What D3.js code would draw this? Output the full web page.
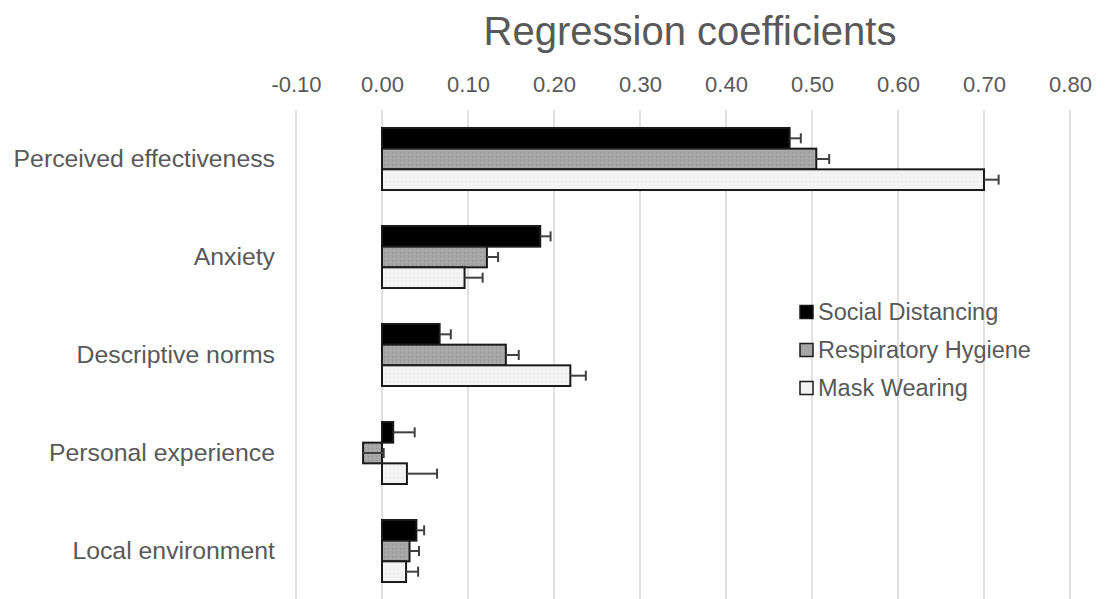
<!DOCTYPE html>
<html>
<head>
<meta charset="utf-8">
<script src="https://cdn.jsdelivr.net/npm/d3@7"></script>
<style>
  html, body { margin: 0; padding: 0; background: #fff; }
  svg { display: block; }
  text { font-family: "Liberation Sans", Arial, sans-serif; fill: #595959; }
</style>
</head>
<body>
<svg id="chart" width="1108" height="599"></svg>
<script>
// ---- Data ----
const categories = ["Perceived effectiveness", "Anxiety", "Descriptive norms", "Personal experience", "Local environment"];
const seriesNames = ["Social Distancing", "Respiratory Hygiene", "Mask Wearing"];
const socialDistancing   = [0.474, 0.184, 0.067, 0.013, 0.040];
const respiratoryHygiene = [0.505, 0.122, 0.144, -0.022, 0.032];
const maskWearing        = [0.700, 0.096, 0.219, 0.029, 0.028];
const errSocialDistancing   = [0.013, 0.012, 0.013, 0.025, 0.009];
const errRespiratoryHygiene = [0.015, 0.013, 0.015, 0.024, 0.011];
const errMaskWearing        = [0.017, 0.021, 0.018, 0.035, 0.014];
const tickValues = [-0.1, 0, 0.1, 0.2, 0.3, 0.4, 0.5, 0.6, 0.7, 0.8];
const tickLabels = ["-0.10", "0.00", "0.10", "0.20", "0.30", "0.40", "0.50", "0.60", "0.70", "0.80"];
const titleText = "Regression coefficients";

const seriesValues = [socialDistancing, respiratoryHygiene, maskWearing];
const seriesErrors = [errSocialDistancing, errRespiratoryHygiene, errMaskWearing];
const fills = ["#000000", "#a6a6a6", "#f2f2f2"];

const svg = d3.select("#chart");

const x = d3.scaleLinear().domain([-0.1, 0.8]).range([296, 1070]);
const y = d3.scaleBand().domain(categories).range([110, 600]).paddingInner(0.367).paddingOuter(0.1835);
const ys = d3.scaleBand().domain(seriesNames).range([0, y.bandwidth()]);

// Texture patterns
const defs = svg.append("defs");
const pat = defs.append("pattern").attr("id", "grayTex").attr("width", 4).attr("height", 4).attr("patternUnits", "userSpaceOnUse");
pat.append("rect").attr("width", 4).attr("height", 4).attr("fill", "#a6a6a6");
pat.append("rect").attr("x", 0).attr("y", 0).attr("width", 1).attr("height", 1).attr("fill", "#969696");
pat.append("rect").attr("x", 2).attr("y", 2).attr("width", 1).attr("height", 1).attr("fill", "#b4b4b4");
const pat2 = defs.append("pattern").attr("id", "whiteTex").attr("width", 4).attr("height", 4).attr("patternUnits", "userSpaceOnUse");
pat2.append("rect").attr("width", 4).attr("height", 4).attr("fill", "#f3f3f3");
pat2.append("rect").attr("x", 1).attr("y", 1).attr("width", 1).attr("height", 1).attr("fill", "#e8e8e8");
const fillRefs = ["#000000", "url(#grayTex)", "url(#whiteTex)"];

// Title
svg.append("text")
  .attr("x", 690).attr("y", 45)
  .attr("text-anchor", "middle")
  .style("font-size", "40px")
  .text(titleText);

// Gridlines
svg.append("g").selectAll("line").data(tickValues).join("line")
  .attr("x1", d => x(d)).attr("x2", d => x(d))
  .attr("y1", 110).attr("y2", 599)
  .attr("stroke", "#d9d9d9").attr("stroke-width", 1.5);

// Top axis labels
const axis = d3.axisTop(x).tickValues(tickValues).tickFormat((d, i) => tickLabels[i]).tickSize(0).tickPadding(0);
const gAxis = svg.append("g").attr("transform", "translate(0,92)").call(axis);
gAxis.select(".domain").remove();
gAxis.selectAll("text")
  .style("font-size", "22px")
  .attr("fill", "#595959")
  .attr("dy", "0")
  .attr("font-family", "Liberation Sans, Arial, sans-serif");

// Category labels
const yAxis = d3.axisLeft(y).tickSize(0).tickPadding(0);
const gY = svg.append("g").attr("transform", "translate(275,0)").call(yAxis);
gY.select(".domain").remove();
gY.selectAll("text")
  .style("font-size", "24.8px")
  .attr("fill", "#595959")
  .attr("font-family", "Liberation Sans, Arial, sans-serif");

// Bars
const rows = [];
categories.forEach((c, i) => {
  seriesNames.forEach((s, j) => {
    rows.push({ cat: c, series: s, j: j, value: seriesValues[j][i], err: seriesErrors[j][i] });
  });
});

const gBars = svg.append("g");
gBars.selectAll("rect").data(rows).join("rect")
  .attr("x", d => x(Math.min(0, d.value)))
  .attr("width", d => Math.abs(x(d.value) - x(0)))
  .attr("y", d => y(d.cat) + ys(d.series))
  .attr("height", ys.bandwidth())
  .attr("fill", d => fillRefs[d.j])
  .attr("stroke", "#1a1a1a")
  .attr("stroke-width", 2);

// Error bars
const gErr = svg.append("g").attr("stroke", "#404040").attr("stroke-width", 2);
gErr.selectAll("line.e").data(rows).join("line").attr("class", "e")
  .attr("x1", d => x(d.value)).attr("x2", d => x(d.value + d.err))
  .attr("y1", d => y(d.cat) + ys(d.series) + ys.bandwidth() / 2)
  .attr("y2", d => y(d.cat) + ys(d.series) + ys.bandwidth() / 2);
gErr.selectAll("line.c").data(rows).join("line").attr("class", "c")
  .attr("x1", d => x(d.value + d.err)).attr("x2", d => x(d.value + d.err))
  .attr("y1", d => y(d.cat) + ys(d.series) + ys.bandwidth() / 2 - 5)
  .attr("y2", d => y(d.cat) + ys(d.series) + ys.bandwidth() / 2 + 5);

// Legend
const legend = svg.append("g").attr("transform", "translate(800,312)");
const li = legend.selectAll("g").data(seriesNames).join("g")
  .attr("transform", (d, i) => `translate(0,${i * 38})`);
li.append("rect")
  .attr("x", 0).attr("y", -6.5).attr("width", 13).attr("height", 13)
  .attr("fill", (d, i) => fills[i])
  .attr("stroke", "#1a1a1a").attr("stroke-width", 1.5);
li.append("text")
  .attr("x", 18).attr("y", 0).attr("dy", "0.35em")
  .style("font-size", "23.5px")
  .text(d => d);
</script>
</body>
</html>
